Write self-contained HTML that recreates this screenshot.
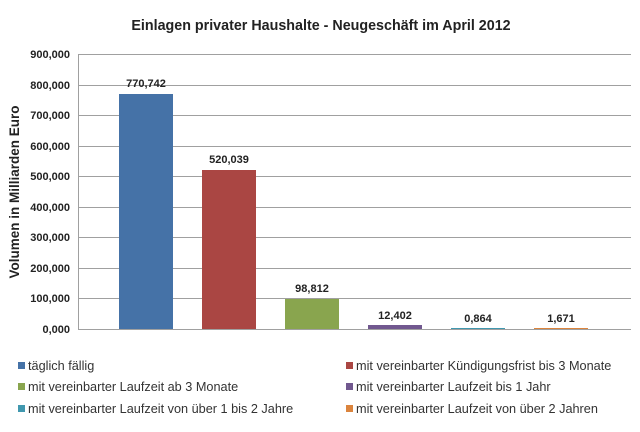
<!DOCTYPE html><html><head><meta charset="utf-8"><style>body{margin:0;background:#fff}svg{display:block}text{font-family:"Liberation Sans",Arial,sans-serif}</style></head><body>
<svg width="640" height="432" viewBox="0 0 640 432">
<rect width="640" height="432" fill="#fff"/>
<text x="321" y="30" text-anchor="middle" font-size="14.3" font-weight="bold" fill="#222">Einlagen privater Haushalte - Neugeschäft im April 2012</text>
<g stroke="#a0a0a0" stroke-width="1">
<line x1="78" y1="54.5" x2="631" y2="54.5"/><line x1="78" y1="85.5" x2="631" y2="85.5"/><line x1="78" y1="115.5" x2="631" y2="115.5"/><line x1="78" y1="146.5" x2="631" y2="146.5"/><line x1="78" y1="176.5" x2="631" y2="176.5"/><line x1="78" y1="207.5" x2="631" y2="207.5"/><line x1="78" y1="237.5" x2="631" y2="237.5"/><line x1="78" y1="268.5" x2="631" y2="268.5"/><line x1="78" y1="298.5" x2="631" y2="298.5"/><line x1="78" y1="329.5" x2="631" y2="329.5"/>
<line x1="78.5" y1="54" x2="78.5" y2="329"/>
</g>
<g font-size="11" font-weight="bold" fill="#222" text-anchor="end">
<text x="70" y="58">900,000</text><text x="70" y="89">800,000</text><text x="70" y="119">700,000</text><text x="70" y="150">600,000</text><text x="70" y="180">500,000</text><text x="70" y="211">400,000</text><text x="70" y="241">300,000</text><text x="70" y="272">200,000</text><text x="70" y="302">100,000</text><text x="70" y="333">0,000</text>
</g>
<text transform="translate(19,192) rotate(-90)" text-anchor="middle" font-size="13.5" font-weight="bold" fill="#222">Volumen in Milliarden Euro</text>
<rect x="119" y="94" width="54" height="235" fill="#4572a7"/>
<rect x="202" y="170" width="54" height="159" fill="#aa4643"/>
<rect x="285" y="299" width="54" height="30" fill="#89a54e"/>
<rect x="368" y="325" width="54" height="4" fill="#71588f"/>
<rect x="451" y="328" width="54" height="1" fill="#4198af"/>
<rect x="534" y="328" width="54" height="1" fill="#db843d"/>
<g font-size="11" font-weight="bold" fill="#222" text-anchor="middle">
<text x="146" y="87">770,742</text><text x="229" y="163">520,039</text><text x="312" y="292">98,812</text><text x="395" y="319">12,402</text><text x="478" y="322">0,864</text><text x="561" y="322">1,671</text>
</g>
<g font-size="12.7" fill="#333">
<rect x="18" y="362" width="7" height="7" fill="#4572a7"/><text x="28" y="370">täglich fällig</text>
<rect x="346" y="362" width="7" height="7" fill="#aa4643"/><text x="356" y="370">mit vereinbarter Kündigungsfrist bis 3 Monate</text>
<rect x="18" y="383" width="7" height="7" fill="#89a54e"/><text x="28" y="391">mit vereinbarter Laufzeit ab 3 Monate</text>
<rect x="346" y="383" width="7" height="7" fill="#71588f"/><text x="356" y="391">mit vereinbarter Laufzeit bis 1 Jahr</text>
<rect x="18" y="405" width="7" height="7" fill="#4198af"/><text x="28" y="413">mit vereinbarter Laufzeit von über 1 bis 2 Jahre</text>
<rect x="346" y="405" width="7" height="7" fill="#db843d"/><text x="356" y="413">mit vereinbarter Laufzeit von über 2 Jahren</text>
</g>
</svg></body></html>
